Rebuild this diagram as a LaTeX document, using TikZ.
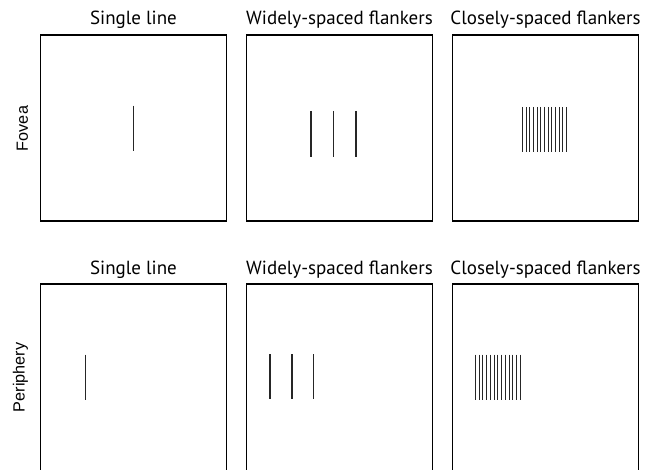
\documentclass[tikz,border=0pt]{standalone}
\usepackage{fontspec}
\setmainfont{PT Sans}
\newfontfamily\rowfont{Liberation Sans}
\usetikzlibrary{positioning}
\tikzset{
  panel/.style={draw, line width=1.2pt, minimum width=186pt, minimum height=186pt, inner sep=0pt, outer sep=0pt},
  cutpanel/.style={panel, minimum height=194pt},
  title/.style={font=\fontsize{19}{22}\selectfont, anchor=base, inner sep=0pt},
  rowlabel/.style={font=\rowfont\fontsize{16.2}{18}\selectfont, rotate=90, inner sep=0pt},
  bar/.style={line width=1.1pt, black!85}
}
\begin{document}
\begin{tikzpicture}[x=1pt, y=-1pt]
  \useasboundingbox (0,0) rectangle (652,470);
  % fovea row
  \node[panel, anchor=north west] (f1) at (40.5,35) {};
  \node[panel, right=20pt of f1] (f2) {};
  \node[panel, right=20pt of f2] (f3) {};
  \node[title] (tf1) at ([yshift=10pt]f1.north) {Single line};
  \node[title] (tf2) at ([yshift=10pt]f2.north) {Widely-spaced flankers};
  \node[title] (tf3) at ([yshift=10pt]f3.north) {Closely-spaced flankers};
  \node[rowlabel, anchor=south] (fov) at (28.3,128.5) {Fovea};
  % periphery row (cut off at the bottom)
  \node[cutpanel, anchor=north west] (p1) at (40.5,284) {};
  \node[cutpanel, right=20pt of p1] (p2) {};
  \node[cutpanel, right=20pt of p2] (p3) {};
  \node[title] (tp1) at ([yshift=10pt]p1.north) {Single line};
  \node[title] (tp2) at ([yshift=10pt]p2.north) {Widely-spaced flankers};
  \node[title] (tp3) at ([yshift=10pt]p3.north) {Closely-spaced flankers};
  \node[rowlabel, anchor=south] (per) at (28.3,377.5) {Periphery};
  % stimuli
  \draw[bar] (133.3,105.7) -- ++(0,45.5);
  \foreach \x in {311,333.6,356} \draw[bar] (\x,110.8) -- ++(0,46);
  \foreach \i in {0,...,12} \draw[bar, line width=0.9pt] (522.3+\i*3.667,107) -- ++(0,44.7);
  \draw[bar] (85.7,354.7) -- ++(0,45.5);
  \foreach \x in {270,292,313.8} \draw[bar] (\x,354) -- ++(0,45);
  \foreach \i in {0,...,12} \draw[bar, line width=0.9pt] (475.3+\i*3.75,354.7) -- ++(0,45.3);
\end{tikzpicture}
\end{document}
